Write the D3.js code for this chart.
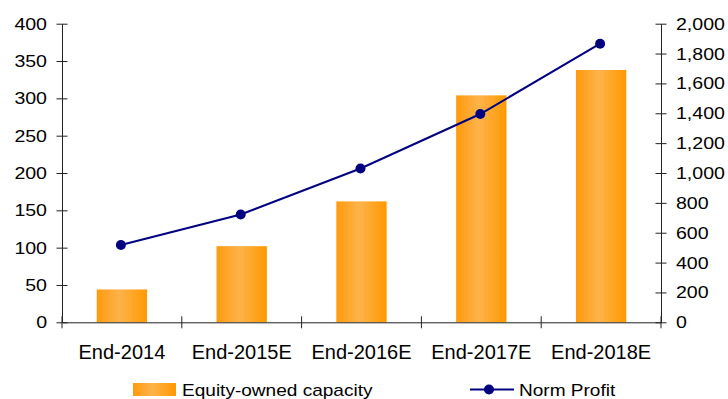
<!DOCTYPE html>
<html>
<head>
<meta charset="utf-8">
<script src="https://cdn.jsdelivr.net/npm/d3@7"></script>
<style>
  body { margin: 0; background: #fff; }
  svg { display: block; }
  text { font-family: "Liberation Sans", Arial, sans-serif; fill: #000; }
</style>
</head>
<body>
<svg id="chart" width="728" height="399"></svg>
<script>
const categories = ["End-2014", "End-2015E", "End-2016E", "End-2017E", "End-2018E"];
const capacity = [44, 102, 162, 304, 338];
const normProfit = [518, 722, 1030, 1395, 1866];
const leftTicks = [0, 50, 100, 150, 200, 250, 300, 350, 400];
const rightTicks = [0, 200, 400, 600, 800, 1000, 1200, 1400, 1600, 1800, 2000];
const seriesNames = ["Equity-owned capacity", "Norm Profit"];

const svg = d3.select("#chart");
const L = 62, R = 661, T = 23.7, B = 322.3;
const FONT = "Liberation Sans, Arial, sans-serif";

const x = d3.scaleBand().domain(categories).range([L, R]).paddingInner(0.58).paddingOuter(0.29);
const xb = d3.scaleBand().domain(categories).range([L, R]);
const yL = d3.scaleLinear().domain([0, 400]).range([B, T]);
const yR = d3.scaleLinear().domain([0, 2000]).range([B, T]);

function stretch(sel, f) {
  sel.each(function () {
    const w = this.getComputedTextLength();
    d3.select(this).attr("textLength", w * f).attr("lengthAdjust", "spacingAndGlyphs");
  });
}

const defs = svg.append("defs");
const grad = defs.append("linearGradient").attr("id", "barGrad").attr("x1", "0").attr("x2", "1").attr("y1", "0").attr("y2", "0");
grad.append("stop").attr("offset", "0%").attr("stop-color", "#FF9A0C");
grad.append("stop").attr("offset", "45%").attr("stop-color", "#FDB34A");
grad.append("stop").attr("offset", "100%").attr("stop-color", "#FF9900");

// bars
svg.append("g").selectAll("rect").data(capacity).join("rect")
  .attr("x", (d, i) => x(categories[i]))
  .attr("width", x.bandwidth())
  .attr("y", d => yL(d))
  .attr("height", d => B - yL(d))
  .attr("fill", "url(#barGrad)");

// axes
const axisColor = "#222";
const gL = svg.append("g").attr("transform", `translate(${L},0)`)
  .call(d3.axisLeft(yL).tickValues(leftTicks).tickSize(0).tickPadding(15));
gL.select(".domain").attr("stroke", axisColor);
gL.selectAll(".tick").append("line").attr("x1", -5.5).attr("x2", 5.5).attr("stroke", axisColor);
gL.selectAll("text").attr("font-size", 17).attr("fill", "#000").attr("font-family", FONT).call(stretch, 1.15);

const gR = svg.append("g").attr("transform", `translate(${R},0)`)
  .call(d3.axisRight(yR).tickValues(rightTicks).tickSize(0).tickPadding(15).tickFormat(d3.format(",")));
gR.select(".domain").attr("stroke", axisColor);
gR.selectAll(".tick").append("line").attr("x1", -5.5).attr("x2", 5.5).attr("stroke", axisColor);
gR.selectAll("text").attr("font-size", 17).attr("fill", "#000").attr("font-family", FONT).call(stretch, 1.15);

const gX = svg.append("g").attr("transform", `translate(0,${B})`)
  .call(d3.axisBottom(xb).tickSize(0));
gX.select(".domain").attr("stroke", axisColor);
gX.selectAll("text").attr("font-size", 20).attr("fill", "#000").attr("font-family", FONT)
  .attr("y", 36.5).attr("dy", 0);
const bounds = categories.map(c => xb(c)).concat([R]);
gX.selectAll(".bnd").data(bounds).join("line").attr("class", "bnd")
  .attr("x1", d => d).attr("x2", d => d).attr("y1", -6).attr("y2", 6).attr("stroke", axisColor);

// line
const cx = (i) => xb(categories[i]) + xb.bandwidth() / 2 - 1;
const line = d3.line().x((d, i) => cx(i)).y(d => yR(d));
svg.append("path").datum(normProfit).attr("d", line)
  .attr("fill", "none").attr("stroke", "#000080").attr("stroke-width", 2);
svg.append("g").selectAll("circle").data(normProfit).join("circle")
  .attr("cx", (d, i) => cx(i))
  .attr("cy", d => yR(d)).attr("r", 5).attr("fill", "#000080");

// legend
const lg = svg.append("g");
lg.append("rect").attr("x", 133).attr("y", 383).attr("width", 43).attr("height", 13).attr("fill", "url(#barGrad)");
lg.append("text").attr("x", 182).attr("y", 395.5).attr("font-size", 17).text(seriesNames[0]).call(stretch, 1.12);
lg.append("line").attr("x1", 470).attr("x2", 514).attr("y1", 389.5).attr("y2", 389.5).attr("stroke", "#000080").attr("stroke-width", 2);
lg.append("circle").attr("cx", 489).attr("cy", 389.5).attr("r", 5).attr("fill", "#000080");
lg.append("text").attr("x", 519).attr("y", 395.5).attr("font-size", 17).text(seriesNames[1]).call(stretch, 1.12);
</script>
</body>
</html>
